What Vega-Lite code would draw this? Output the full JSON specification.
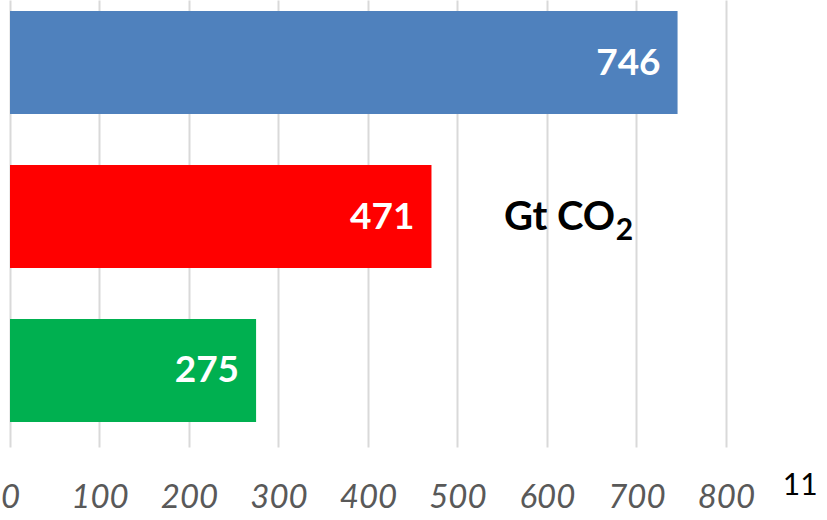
{
  "$schema": "https://vega.github.io/schema/vega-lite/v6.json",
  "width": 817,
  "height": 447,
  "autosize": {"type": "none"},
  "padding": {"left": 10, "top": 0, "right": 0, "bottom": 73},
  "background": "white",
  "config": {"view": {"stroke": null}},
  "datasets": {
    "bars": [
      {"cat": "A", "value": 746, "color": "#4f81bd"},
      {"cat": "B", "value": 471, "color": "#ff0000"},
      {"cat": "C", "value": 275, "color": "#00b050"}
    ],
    "notes": [
      {"cat": "B", "x": 552, "label": "Gt CO", "kind": "main"},
      {"cat": "B", "x": 677, "label": "2", "kind": "sub"}
    ],
    "page": [
      {"cat": "C", "x": 883, "label": "11"}
    ]
  },
  "layer": [
    {
      "data": {"name": "bars"},
      "mark": {"type": "bar"},
      "encoding": {
        "y": {
          "field": "cat", "type": "nominal", "axis": null, "sort": null,
          "scale": {"paddingInner": 0.331, "paddingOuter": 0.117, "align": 0.306}
        },
        "x": {
          "field": "value", "type": "quantitative",
          "scale": {"domain": [0, 913], "nice": false},
          "axis": {
            "values": [0, 100, 200, 300, 400, 500, 600, 700, 800],
            "title": null, "domain": false, "ticks": false,
            "grid": true, "gridColor": "#d9d9d9", "gridWidth": 2,
            "labelFont": "Lato", "labelFontStyle": "italic", "labelFontSize": 33,
            "labelColor": "#595959", "labelPadding": 34, "labelFlush": false,
            "labelOverlap": false
          }
        },
        "color": {"field": "color", "type": "nominal", "scale": null}
      }
    },
    {
      "data": {"name": "bars"},
      "mark": {"type": "text", "align": "right", "baseline": "middle", "dx": -17, "dy": 1,
               "font": "Lato", "fontSize": 37, "fontWeight": "bold", "color": "white"},
      "encoding": {
        "y": {"field": "cat", "type": "nominal", "sort": null},
        "x": {"field": "value", "type": "quantitative"},
        "text": {"field": "value", "type": "quantitative"}
      }
    },
    {
      "data": {"name": "notes"},
      "transform": [{"filter": "datum.kind === 'main'"}],
      "mark": {"type": "text", "align": "left", "baseline": "alphabetic", "dy": 13.5,
               "font": "Lato", "fontSize": 40, "fontWeight": "bold", "color": "black"},
      "encoding": {
        "y": {"field": "cat", "type": "nominal", "sort": null},
        "x": {"field": "x", "type": "quantitative"},
        "text": {"field": "label"}
      }
    },
    {
      "data": {"name": "notes"},
      "transform": [{"filter": "datum.kind === 'sub'"}],
      "mark": {"type": "text", "align": "left", "baseline": "alphabetic", "dy": 23.5,
               "font": "Lato", "fontSize": 30, "fontWeight": "bold", "color": "black"},
      "encoding": {
        "y": {"field": "cat", "type": "nominal", "sort": null},
        "x": {"field": "x", "type": "quantitative"},
        "text": {"field": "label"}
      }
    },
    {
      "data": {"name": "page"},
      "mark": {"type": "text", "align": "center", "baseline": "middle", "dy": 116,
               "font": "Lato", "fontSize": 30, "color": "black"},
      "encoding": {
        "y": {"field": "cat", "type": "nominal", "sort": null},
        "x": {"field": "x", "type": "quantitative"},
        "text": {"field": "label"}
      }
    }
  ]
}
